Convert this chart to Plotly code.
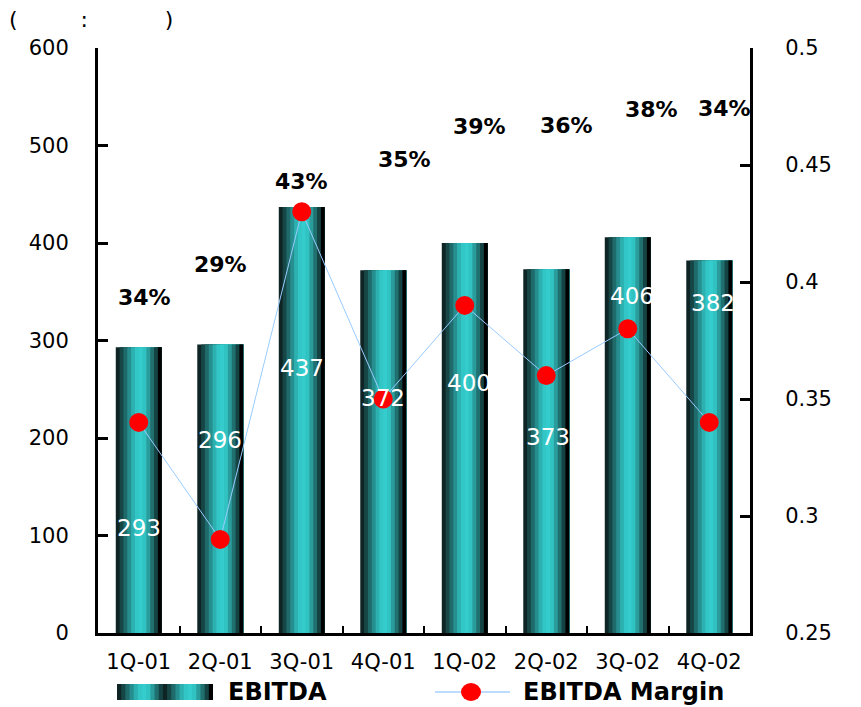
import plotly.graph_objects as go

quarters = ["1Q-01", "2Q-01", "3Q-01", "4Q-01", "1Q-02", "2Q-02", "3Q-02", "4Q-02"]
ebitda = [293, 296, 437, 372, 400, 373, 406, 382]
margin = [0.34, 0.29, 0.43, 0.35, 0.39, 0.36, 0.38, 0.34]
margin_labels = ["34%", "29%", "43%", "35%", "39%", "36%", "38%", "34%"]

# label placement (left-axis units) as in the original chart
value_label_y = [108, 198, 272, 241, 256, 201, 346, 338]
value_label_dx = [0, 0, 0, 0, 4, 2, 4, 4]
pct_label_y = [344, 378, 463, 486, 519, 521, 537, 538]
pct_label_dx = [6, 0, 0, 21, 15, 20, 24, 15]

stripe_colors = ["#0f2424", "#174646", "#1f6a6a", "#268e8e", "#2db0b0", "#32c6c6",
                 "#34cccc", "#31c2c2", "#2a9c9c", "#207070", "#154242", "#000000"]

FONT = "DejaVu Sans"
fig = go.Figure()

bar_w = 0.564
sw = bar_w / len(stripe_colors)
for i, c in enumerate(stripe_colors):
    fig.add_trace(go.Bar(
        x=quarters, y=ebitda, width=[bar_w - i * sw] * len(quarters),
        offset=[-bar_w / 2 + i * sw] * len(quarters),
        marker=dict(color=c, line=dict(width=0)),
        showlegend=False, hoverinfo="skip" if i else None, name="EBITDA",
    ))

fig.add_trace(go.Scatter(
    x=quarters, y=margin, yaxis="y2", mode="lines+markers", name="EBITDA Margin",
    line=dict(color="#99ccff", width=1),
    marker=dict(color="#ff0000", size=19, line=dict(width=0)),
    showlegend=False,
))

annotations = []
for q, v, ly, dx in zip(quarters, ebitda, value_label_y, value_label_dx):
    annotations.append(dict(x=q, y=ly, xref="x", yref="y", text=str(v), showarrow=False,
                            xshift=dx, font=dict(family=FONT, size=23, color="white")))
for q, t, ly, dx in zip(quarters, margin_labels, pct_label_y, pct_label_dx):
    annotations.append(dict(x=q, y=ly, xref="x", yref="y", text="<b>" + t + "</b>", showarrow=False,
                            xshift=dx, font=dict(family=FONT, size=22, color="black")))

annotations.append(dict(x=0, y=1, xref="paper", yref="paper", xanchor="left", yanchor="top",
                        xshift=-98 + 7, yshift=48 - 5, text="(         :           )", showarrow=False,
                        font=dict(family=FONT, size=22, color="black")))

# custom legend
shapes = []
sx0, sx1 = 117, 213
leg_cols = stripe_colors[:-1] * 2 + ["#000000"]
for i, c in enumerate(leg_cols):
    x0 = sx0 + (sx1 - sx0) * i / len(leg_cols)
    shapes.append(dict(type="rect", xref="paper", yref="paper",
                       x0=(x0 - 98) / 652, x1=(sx1 - 98) / 652,
                       y0=(633 - 700) / 585, y1=(633 - 684) / 585,
                       fillcolor=c, line=dict(width=0), layer="above"))
shapes.append(dict(type="line", xref="paper", yref="paper",
                   x0=(435 - 98) / 652, x1=(510 - 98) / 652,
                   y0=(633 - 692) / 585, y1=(633 - 692) / 585,
                   line=dict(color="#bcdcff", width=2)))
shapes.append(dict(type="circle", xref="paper", yref="paper",
                   x0=(461 - 98) / 652, x1=(481 - 98) / 652,
                   y0=(633 - 701) / 585, y1=(633 - 683) / 585,
                   fillcolor="#ff0000", line=dict(width=0)))
annotations.append(dict(x=(226 - 98) / 652, y=(633 - 692) / 585, xref="paper", yref="paper",
                        xanchor="left", yanchor="middle", text="<b>EBITDA</b>", showarrow=False,
                        font=dict(family=FONT, size=24, color="black")))
annotations.append(dict(x=(521 - 98) / 652, y=(633 - 692) / 585, xref="paper", yref="paper",
                        xanchor="left", yanchor="middle", text="<b>EBITDA Margin</b>", showarrow=False,
                        font=dict(family=FONT, size=24, color="black")))

fig.update_layout(
    width=861, height=707,
    margin=dict(l=98, r=111, t=48, b=74),
    paper_bgcolor="white", plot_bgcolor="white",
    barmode="overlay", showlegend=False,
    font=dict(family=FONT, size=21, color="black"),
    xaxis=dict(type="category", showgrid=False, showline=True, linecolor="black", linewidth=3,
               ticks="inside", ticklen=7, tickwidth=2, tickcolor="black", tickson="boundaries",
               ticklabelstandoff=8, tickfont=dict(family=FONT, size=21), range=[-0.5, 7.5]),
    yaxis=dict(range=[0, 600], tickvals=[0, 100, 200, 300, 400, 500, 600], showgrid=False,
               showline=True, linecolor="black", linewidth=3, ticks="inside", ticklen=10,
               tickwidth=3, tickcolor="black", zeroline=False, ticklabelstandoff=22,
               tickfont=dict(family=FONT, size=21)),
    yaxis2=dict(range=[0.25, 0.5], tickvals=[0.25, 0.3, 0.35, 0.4, 0.45, 0.5],
                ticktext=["0.25", "0.3", "0.35", "0.4", "0.45", "0.5"],
                overlaying="y", side="right", showgrid=False, showline=True, linecolor="black",
                linewidth=3, ticks="inside", ticklen=10, tickwidth=3, tickcolor="black",
                zeroline=False, ticklabelstandoff=28, tickfont=dict(family=FONT, size=21)),
    annotations=annotations, shapes=shapes,
)

fig.write_html("out.html")
